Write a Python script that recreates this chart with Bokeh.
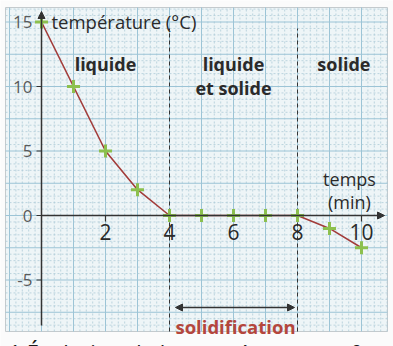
import numpy as np
from bokeh.plotting import figure
from bokeh.models import Range1d, Arrow, NormalHead, ColumnDataSource
from bokeh.core.properties import value
from bokeh.embed import file_html
from bokeh.resources import INLINE

# ---- data ----
temps_min = [0, 1, 2, 3, 4, 5, 6, 7, 8, 9, 10]
temperature = [15, 10, 5, 2, 0, 0, 0, 0, 0, -1, -2.5]
x_ticks = [2, 4, 6, 8, 10]
x_tick_labels = ["2", "4", "6", "8", "10"]
y_ticks = [15, 10, 5, 0, -5]
y_tick_labels = ["15", "10", "5", "0", "-5"]
phase_bounds = [4, 8]
phase_labels = ["liquide", "liquide\net solide", "solide"]
phase_label_x = [2.0, 6.0, 9.45]

W, H = 393, 346
XPX, YPX = 32.0, 12.9     # pixels per unit
X0PX, Y0PX = 41, 215      # pixel of origin

p = figure(width=W, height=H, output_backend="svg", toolbar_location=None,
           x_range=Range1d(-X0PX / XPX, (W - X0PX) / XPX),
           y_range=Range1d(-(H - Y0PX) / YPX, Y0PX / YPX),
           min_border=0, min_border_left=0, min_border_right=0,
           min_border_top=0, min_border_bottom=0)
p.axis.visible = False
p.grid.visible = False
p.outline_line_color = None
p.background_fill_color = "#fbfbfb"
p.border_fill_color = "#fbfbfb"

def px_x(px):
    return (px - X0PX) / XPX

def px_y(py):
    return (Y0PX - py) / YPX

# graph paper
px0, px1 = px_x(5), px_x(387)
py0, py1 = px_y(331), px_y(7)
p.quad(left=px0, right=px1, bottom=py0, top=py1, fill_color="#eef5f7",
       line_color="#c4cacd", line_width=1)

gx_minor = [x for x in np.arange(-1.0, 10.81, 0.2) if abs(x - round(x)) > 1e-6]
gx_major = list(np.arange(-1, 11, 1.0))
gy_minor = [y for y in np.arange(-8.5, 16.1, 0.5) if abs(y / 2.5 - round(y / 2.5)) > 1e-6]
gy_major = list(np.arange(-7.5, 16.1, 2.5))
p.segment(x0=gx_minor, x1=gx_minor, y0=py0, y1=py1, line_color="#aecbd8",
          line_width=0.8, line_dash="2 2")
p.segment(x0=gx_major, x1=gx_major, y0=py0, y1=py1, line_color="#9cc4d6",
          line_width=1)
p.segment(x0=px0, x1=px1, y0=gy_minor, y1=gy_minor, line_color="#aecbd8",
          line_width=0.8, line_dash="2 2")
p.segment(x0=px0, x1=px1, y0=gy_major, y1=gy_major, line_color="#9cc4d6",
          line_width=1)

# phase separators
p.segment(x0=phase_bounds, x1=phase_bounds, y0=py0, y1=px_y(28),
          line_color="#333333", line_width=1, line_dash="4 3")

# axes
axc = "#333333"
p.add_layout(Arrow(end=NormalHead(size=7, fill_color=axc, line_color=axc),
                   x_start=0, y_start=px_y(325), x_end=0, y_end=px_y(11),
                   line_color=axc, line_width=1.5))
p.add_layout(Arrow(end=NormalHead(size=7, fill_color=axc, line_color=axc),
                   x_start=0, y_start=0, x_end=px_x(384), y_end=0,
                   line_color=axc, line_width=1.5))
p.segment(x0=[-5 / XPX] * len(y_ticks), x1=[0] * len(y_ticks), y0=y_ticks, y1=y_ticks,
          line_color=axc, line_width=1.2)
p.segment(x0=x_ticks, x1=x_ticks, y0=[0] * len(x_ticks), y1=[-6 / YPX] * len(x_ticks),
          line_color=axc, line_width=1.2)
p.text(x=[-9 / XPX] * len(y_ticks), y=y_ticks, text=y_tick_labels,
       text_font=value("Open Sans"), text_font_size="17px", text_color="#5a5a5a",
       text_align="right", text_baseline="middle")
p.text(x=x_ticks, y=[-8 / YPX] * len(x_ticks), text=x_tick_labels,
       text_font=value("Open Sans"), text_font_size="21px", text_color="#2a2a2a",
       text_align="center", text_baseline="top")

# axis titles
p.text(x=[px_x(51)], y=[px_y(21)], text=["température (°C)"],
       text_font=value("Open Sans"), text_font_size="18.5px", text_color="#2a2a2a",
       text_align="left", text_baseline="middle")
p.text(x=[px_x(349)], y=[px_y(190)], text=["temps\n(min)"],
       text_font=value("Open Sans"), text_font_size="18px", text_color="#2a2a2a",
       text_align="center", text_baseline="middle", text_line_height=0.95)

# phase labels
p.text(x=phase_label_x, y=[px_y(51)] * 3, text=phase_labels,
       text_font=value("Open Sans"), text_font_style="bold", text_font_size="18px",
       text_color="#2a2a2a", text_align="center", text_baseline="top",
       text_line_height=1.0)

# solidification arrow + label
p.add_layout(Arrow(start=NormalHead(size=7, fill_color=axc, line_color=axc),
                   end=NormalHead(size=7, fill_color=axc, line_color=axc),
                   x_start=px_x(175), y_start=px_y(307), x_end=px_x(294), y_end=px_y(307),
                   line_color=axc, line_width=1.5))
p.text(x=[px_x(235)], y=[px_y(326)], text=["solidification"],
       text_font=value("Open Sans"), text_font_style="bold", text_font_size="18.5px",
       text_color="#b4463c", text_align="center", text_baseline="middle")

# caption (cut off by the window, as in the reference)
p.text(x=[px_x(8)], y=[px_y(336)], text=["1  Évolution de la température en fonction du temps"],
       text_font=value("Open Sans"), text_font_size="22px", text_color="#1a1a1a",
       text_align="left", text_baseline="top")

# data
src = ColumnDataSource(dict(t=temps_min, T=temperature))
p.line("t", "T", source=src, line_color="#a23c3a", line_width=1.6)
p.scatter("t", "T", source=src, marker="cross", size=13, line_width=3,
          line_color="#8cc04e")

open("out.html", "w").write(file_html(p, INLINE))
